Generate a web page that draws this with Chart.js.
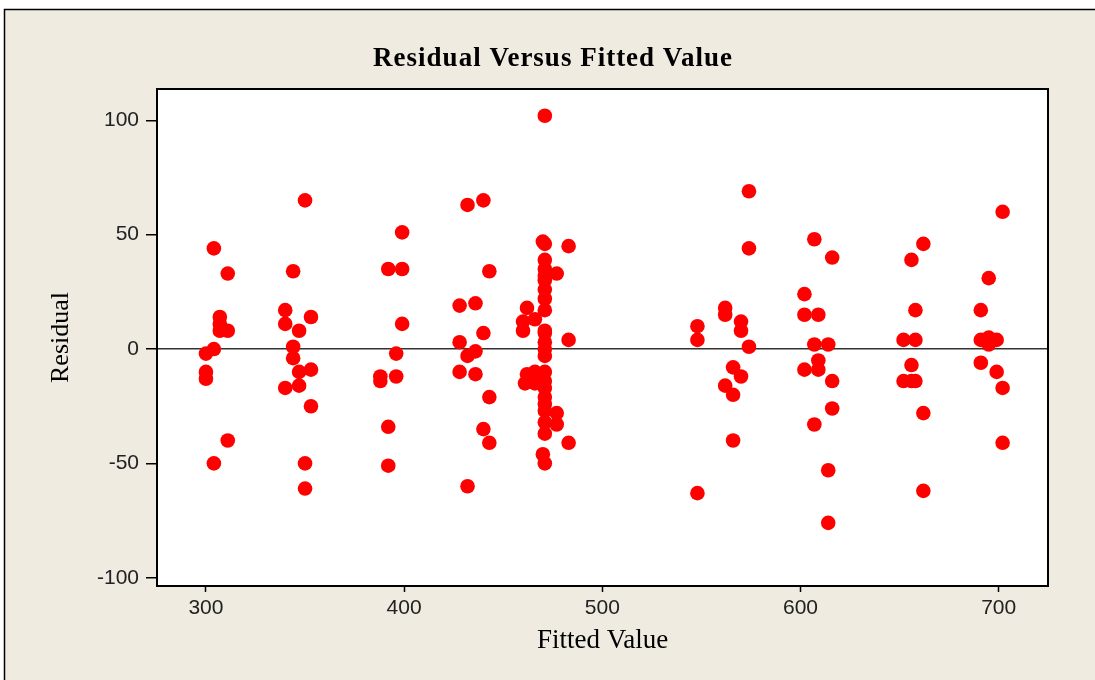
<!DOCTYPE html>
<html>
<head>
<meta charset="utf-8">
<script src="https://cdn.jsdelivr.net/npm/chart.js@4"></script>
<style>
  body { margin: 0; background: #fff; }
  canvas { display: block; }
</style>
</head>
<body>
<canvas id="chart" width="1095" height="680"></canvas>
<script>
// Residual vs fitted (pairs line up by index)
const fitted = [
  300, 304, 300, 300, 304, 304, 307, 307, 307, 311, 311, 311,
  340, 340, 344, 344, 344, 347, 347, 347, 340, 350, 350, 350, 353, 353, 353,
  388, 388, 392, 392, 392, 396, 396, 399, 399, 399,
  428, 428, 428, 432, 432, 432, 436, 436, 436, 440, 440, 440, 443, 443, 443,
  462, 460, 460, 466, 462, 466, 461, 466,
  471, 470, 471, 471, 471, 471, 471, 471, 471, 471, 471, 471, 471, 471, 471,
  471, 471, 471, 471, 471, 471, 471, 471, 470, 471,
  477, 477, 477, 483, 483, 483,
  548, 548, 548, 562, 562, 562, 566, 566, 566, 570, 570, 570, 574, 574, 574,
  602, 602, 602, 607, 607, 607, 609, 609, 609, 614, 614, 614, 616, 616, 616,
  652, 652, 656, 656, 656, 658, 658, 658, 662, 662, 662,
  691, 691, 691, 695, 695, 695, 699, 699, 702, 702, 702
];
const residual = [
  -2, 0, -10, -13, 44, -50, 14, 11, 8, 8, 33, -40,
  17, 11, 34, 1, -4, 8, -10, -16, -17, 65, -50, -61, 14, -9, -25,
  -12, -14, 35, -34, -51, -2, -12, 51, 35, 11,
  19, 3, -10, 63, -3, -60, 20, -1, -11, 65, 7, -35, 34, -21, -41,
  18, 12, 8, 13, -11, -10, -15, -15,
  102, 47, 46, 39, 35, 32, 30, 26, 22, 17, 8, 7, 3, 0, -3,
  -10, -14, -17, -21, -24, -27, -32, -37, -46, -50,
  33, -28, -33, 45, 4, -41,
  10, 4, -63, 18, 15, -16, -8, -20, -40, 12, 8, -12, 69, 44, 1,
  24, 15, -9, 48, 2, -33, 15, -5, -9, 2, -53, -76, 40, -14, -26,
  4, -14, 39, -7, -14, 17, 4, -14, 46, -28, -62,
  17, 4, -6, 31, 5, 2, 4, -10, 60, -17, -41
];
const xTicks = [300, 400, 500, 600, 700];
const yTicks = [-100, -50, 0, 50, 100];
const chartTitle = 'Residual Versus Fitted Value';

const serif = "'Liberation Serif', 'Times New Roman', serif";
const sans = "'Liberation Sans', Arial, sans-serif";

// beige frame, white plot box and the spaced-out title centred on the page
const framePlugin = {
  id: 'frame',
  beforeDraw(chart) {
    const { ctx, chartArea: a } = chart;
    ctx.save();
    ctx.fillStyle = '#ffffff';
    ctx.fillRect(0, 0, chart.width, chart.height);
    ctx.fillStyle = '#efebe1';
    ctx.fillRect(4, 9, chart.width, chart.height);
    ctx.strokeStyle = '#000';
    ctx.lineWidth = 1.5;
    ctx.strokeRect(4.5, 9.5, chart.width + 10, chart.height + 10);
    ctx.fillStyle = '#ffffff';
    ctx.fillRect(a.left, a.top, a.right - a.left, a.bottom - a.top);
    ctx.restore();
  },
  afterDraw(chart) {
    const { ctx, chartArea: a } = chart;
    ctx.save();
    ctx.strokeStyle = '#000';
    ctx.lineWidth = 2;
    ctx.strokeRect(a.left, a.top, a.right - a.left, a.bottom - a.top);
    ctx.fillStyle = '#000';
    ctx.font = 'bold 27px ' + serif;
    ctx.letterSpacing = '1px';
    ctx.textAlign = 'center';
    ctx.textBaseline = 'middle';
    ctx.fillText(chartTitle, 553, 59);
    ctx.restore();
  }
};

new Chart(document.getElementById('chart'), {
  type: 'scatter',
  data: {
    datasets: [{
      data: fitted.map((x, i) => ({ x, y: residual[i] })),
      backgroundColor: '#ff0000',
      borderWidth: 0,
      pointRadius: 7.3,
      pointHoverRadius: 7.3
    }]
  },
  options: {
    responsive: false,
    devicePixelRatio: 1,
    animation: false,
    events: [],
    layout: { padding: { left: 0, right: 47, top: 89, bottom: 0 } },
    plugins: {
      legend: { display: false },
      tooltip: { enabled: false },
      title: { display: false }
    },
    scales: {
      x: {
        type: 'linear',
        min: 275.3,
        max: 724.9,
        afterBuildTicks: s => { s.ticks = xTicks.map(v => ({ value: v })); },
        afterFit: s => { s.height = 94; },
        grid: { drawOnChartArea: false, drawTicks: true, tickLength: 6, tickColor: '#000', tickWidth: 1.5 },
        border: { display: true, color: '#000', width: 2 },
        ticks: { color: '#222', font: { family: sans, size: 21 }, padding: 4, maxRotation: 0 },
        title: {
          display: true,
          text: 'Fitted Value',
          color: '#000',
          font: { family: serif, size: 27 },
          padding: { top: 0, bottom: 23 }
        }
      },
      y: {
        type: 'linear',
        min: -103.6,
        max: 113.7,
        afterBuildTicks: s => { s.ticks = yTicks.map(v => ({ value: v })); },
        afterFit: s => { s.width = 157; },
        grid: {
          drawOnChartArea: true,
          drawTicks: true,
          tickLength: 11,
          tickColor: '#000',
          tickWidth: 1.5,
          color: c => (c.tick && c.tick.value === 0 ? '#333' : 'rgba(0,0,0,0)'),
          lineWidth: 1.5
        },
        border: { display: true, color: '#000', width: 2 },
        ticks: { color: '#222', font: { family: sans, size: 21 }, padding: 7 },
        title: {
          display: true,
          text: 'Residual',
          color: '#000',
          font: { family: serif, size: 26 },
          padding: { top: 46, bottom: 0 }
        }
      }
    }
  },
  plugins: [framePlugin]
});
</script>
</body>
</html>
